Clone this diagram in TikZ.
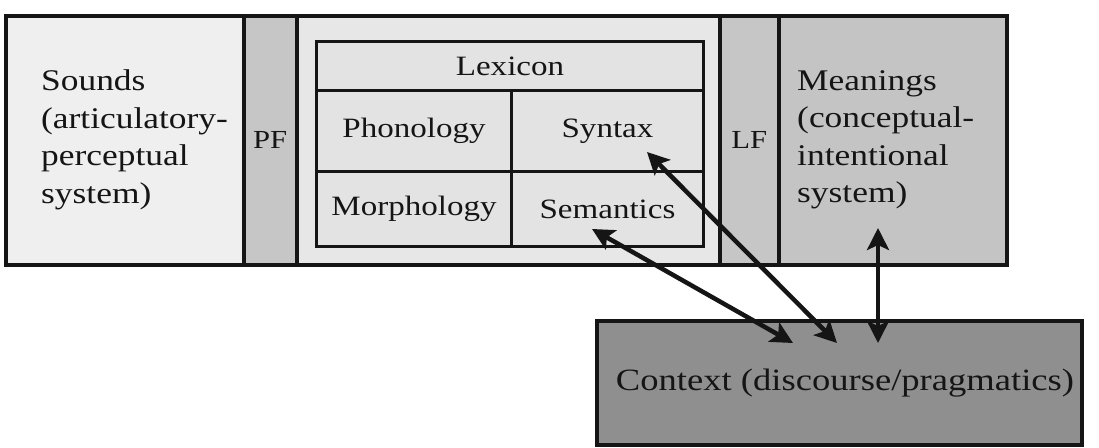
\documentclass[tikz,border=0pt]{standalone}
\usepackage{fontspec}
\setmainfont[FakeStretch=1.18]{Liberation Serif}
\usetikzlibrary{arrows.meta}
\definecolor{soundfill}{HTML}{EFEFEF}
\definecolor{midfill}{HTML}{E7E7E7}
\definecolor{cellfill}{HTML}{E3E3E3}
\definecolor{ifacefill}{HTML}{C6C6C6}
\definecolor{meanfill}{HTML}{C4C4C4}
\definecolor{ctxfill}{HTML}{8F8F8F}
\definecolor{ink}{HTML}{151515}
\tikzset{
  region/.style={draw=ink, line width=3.5pt, anchor=north west, inner sep=0pt},
  cell/.style={draw=ink, line width=3pt, fill=cellfill, anchor=north west, inner sep=0pt},
  bigtext/.style={font=\fontsize{30}{37.5}\selectfont, text=ink, align=left, inner sep=0pt},
  ctxtext/.style={font=\fontsize{31}{37}\selectfont, text=ink, inner sep=0pt},
  celltext/.style={font=\fontsize{28}{32}\selectfont, text=ink, inner sep=0pt},
  ifacetext/.style={font=\fontsize{26}{30}\selectfont, text=ink, inner sep=0pt},
  link/.style={draw=ink, line width=4.5pt, {Stealth[length=22pt,width=22pt,inset=5pt]}-{Stealth[length=22pt,width=22pt,inset=5pt]}}
}
\begin{document}
\begin{tikzpicture}[x=1pt,y=-1pt]
\useasboundingbox (0,0) rectangle (1099,447);
% outer strip
\node[region, fill=soundfill, minimum width=238pt, minimum height=249pt] (sounds) at (4,14) {};
\node[region, fill=ifacefill, minimum width=53pt, minimum height=249pt] (pf) at (242,14) {};
\node[region, fill=midfill, minimum width=423pt, minimum height=249pt] (mid) at (295,14) {};
\node[region, fill=ifacefill, minimum width=59pt, minimum height=249pt] (lf) at (718,14) {};
\node[region, fill=meanfill, minimum width=228pt, minimum height=249pt] (meanings) at (777,14) {};
% texts
\node[bigtext, anchor=west] (soundstext) at (41,140) {Sounds\\(articulatory-\\perceptual\\system)};
\node[ifacetext] (pftext) at (pf.center) {PF};
\node[ifacetext] (lftext) at (lf.center) {LF};
\node[bigtext, anchor=west] (meaningstext) at (797,140) {Meanings\\(conceptual-\\intentional\\system)};
% lexicon table
\node[cell, minimum width=387pt, minimum height=49pt] (lexicon) at (315,40) {};
\node[cell, minimum width=195pt, minimum height=81pt] (phon) at (315,89) {};
\node[cell, minimum width=192pt, minimum height=81pt] (syntax) at (510,89) {};
\node[cell, minimum width=195pt, minimum height=75pt] (morph) at (315,170) {};
\node[cell, minimum width=192pt, minimum height=75pt] (sem) at (510,170) {};
\node[celltext] (lexicontext) at (lexicon.center) {Lexicon};
\node[celltext] (phontext) at (phon.center) {Phonology};
\node[celltext] (syntaxtext) at (syntax.center) {Syntax};
\node[celltext] (morphtext) at (morph.center) {Morphology};
\node[celltext] (semtext) at (sem.center) {Semantics};
% context
\node[region, fill=ctxfill, minimum width=485pt, minimum height=124pt] (context) at (595,319) {};
\node[ctxtext] (contexttext) at (845,383) {Context (discourse/pragmatics)};
% arrow ends
\coordinate (semend) at (592,229);
\coordinate (synend) at (647,152);
\coordinate (meanend) at (878,228);
\coordinate (ctxA) at (793,343);
\coordinate (ctxB) at (837,343);
\coordinate (ctxC) at (878,343);
\draw[link] (semend) -- (ctxA);
\draw[link] (synend) -- (ctxB);
\draw[link] (meanend) -- (ctxC);
\end{tikzpicture}
\end{document}
